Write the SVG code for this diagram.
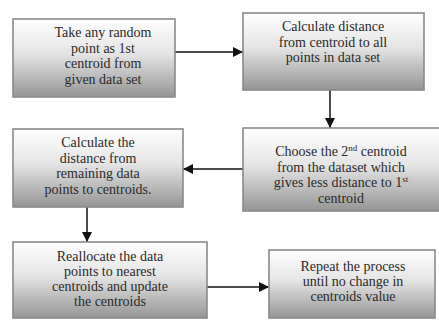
<svg xmlns="http://www.w3.org/2000/svg" width="439" height="320" viewBox="0 0 439 320">
<defs>
<linearGradient id="g" x1="0" y1="0" x2="0" y2="1">
<stop offset="0" stop-color="#ffffff"/>
<stop offset="0.45" stop-color="#e4e4e4"/>
<stop offset="1" stop-color="#959595"/>
</linearGradient>
<marker id="ah" viewBox="0 0 10 10" refX="10" refY="5" markerWidth="10" markerHeight="10" markerUnits="userSpaceOnUse" orient="auto">
<path d="M0,0 L10,5 L0,10 z" fill="#111"/>
</marker>
<style>
.box{fill:url(#g);stroke:#8a8a8a;stroke-width:1.6}
.t{font-size:14px;fill:#2a2a2a;text-anchor:middle}
.sup{font-size:9px}
.c{stroke:#111;stroke-width:1.5;fill:none;marker-end:url(#ah)}
</style>
</defs>
<rect width="439" height="320" fill="#ffffff"/>
<g id="connectors">
<line class="c" x1="175" y1="52" x2="243" y2="52"/>
<line class="c" x1="330" y1="90" x2="330" y2="128"/>
<line class="c" x1="243" y1="169" x2="183" y2="169"/>
<line class="c" x1="87" y1="207" x2="87" y2="242"/>
<line class="c" x1="207" y1="287" x2="269" y2="287"/>
</g>
<g font-family="'Liberation Serif', 'Times New Roman', 'DejaVu Serif', serif">
<g id="n1">
<rect class="box" x="13" y="19" width="162" height="78"/>
<text class="t" x="103" y="37">Take any random</text>
<text class="t" x="103" y="52.5">point as 1st</text>
<text class="t" x="103" y="68">centroid from</text>
<text class="t" x="103" y="83.5">given data set</text>
</g>
<g id="n2">
<rect class="box" x="243" y="13" width="181" height="77"/>
<text class="t" x="333" y="31">Calculate distance</text>
<text class="t" x="333" y="46.5">from centroid to all</text>
<text class="t" x="333" y="62">points in data set</text>
</g>
<g id="n4">
<rect class="box" x="243" y="128" width="200" height="83"/>
<text class="t" x="341" y="156">Choose the 2<tspan class="sup" dy="-5">nd</tspan><tspan dy="5"> centroid</tspan></text>
<text class="t" x="341" y="171.5">from the dataset which</text>
<text class="t" x="341" y="187">gives less distance to 1<tspan class="sup" dy="-5">st</tspan></text>
<text class="t" x="341" y="202.5">centroid</text>
</g>
<g id="n3">
<rect class="box" x="13" y="129" width="170" height="78"/>
<text class="t" x="98" y="147">Calculate the</text>
<text class="t" x="98" y="162.5">distance from</text>
<text class="t" x="98" y="178">remaining data</text>
<text class="t" x="98" y="193.5">points to centroids.</text>
</g>
<g id="n5">
<rect class="box" x="13" y="242" width="194" height="76"/>
<text class="t" x="110" y="261">Reallocate the data</text>
<text class="t" x="110" y="276">points to nearest</text>
<text class="t" x="110" y="291">centroids and update</text>
<text class="t" x="110" y="306">the centroids</text>
</g>
<g id="n6">
<rect class="box" x="269" y="250" width="166" height="68"/>
<text class="t" x="353" y="271">Repeat the process</text>
<text class="t" x="353" y="286">until no change in</text>
<text class="t" x="353" y="301">centroids value</text>
</g>
</g>
</svg>
